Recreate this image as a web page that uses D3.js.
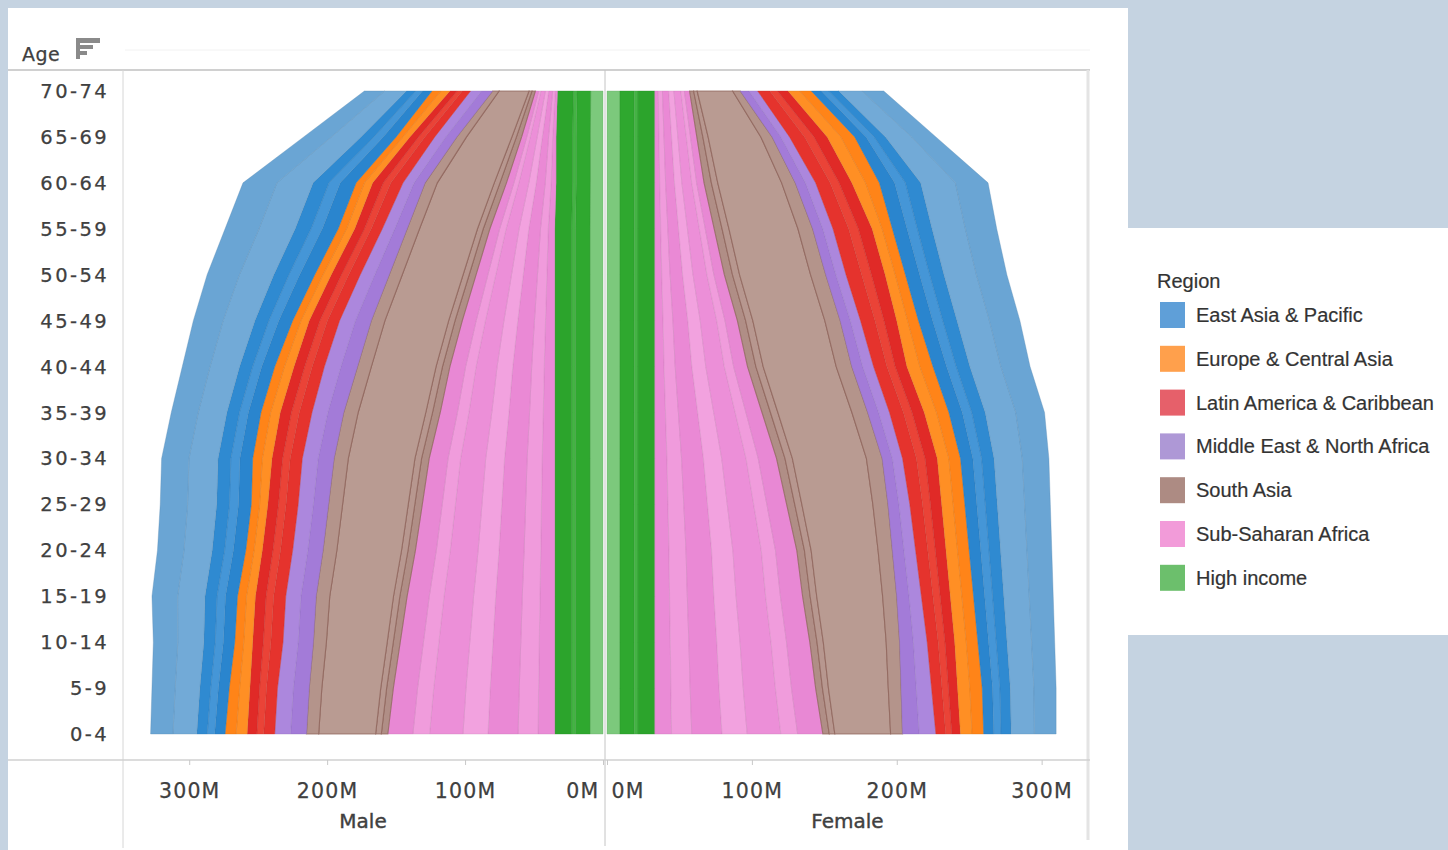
<!DOCTYPE html>
<html><head><meta charset="utf-8">
<script src="https://cdn.jsdelivr.net/npm/d3@7"></script>
<style>
body{margin:0;background:#c5d3e1;}
svg{display:block;}
</style></head>
<body>
<svg id="chart" width="1448" height="850"></svg>
<script>
// ---------------- DATA (population, millions) ----------------
const ages = ["0-4","5-9","10-14","15-19","20-24","25-29","30-34","35-39","40-44","45-49","50-54","55-59","60-64","65-69","70-74"];
const regions = ["East Asia & Pacific","Europe & Central Asia","Latin America & Caribbean","Middle East & North Africa","South Asia","Sub-Saharan Africa","High income"];
const xTicks = [0,100,200,300];

// Male, by age group 0-4 ... 70-74
const maleEastAsia   = [54,56,59,62,64,66,66,65,67,72,78,82,82,67,49];
const maleEurope     = [16,15,13,13,12,12,14,14,14,12,12,12,12,10,13];
const maleLatAm      = [20,20,22,22,22,22,22,23,22,22,21,20,22,18,15];
const maleMENA       = [23,23,22,22,22,22,23,23,24,23,21,18,16,16,16];
const maleSouthAsia  = [59,61,63,66,67,68,69,70,67,66,63,60,59,47,31];
const maleSubSaharan = [121,117,112,107,101,96,91,83,76,67,57,47,36,25,16];
const maleHighIncome = [35,35,35,35,35,35,35,35,35,35,35,35,34,34,33];

// Female, by age group 0-4 ... 70-74
const femaleEastAsia   = [50,51,53,55,57,59,61,66,67,70,70,72,75,56,50];
const femaleEurope     = [16,17,16,16,16,16,16,17,18,15,14,14,19,19,16];
const femaleLatAm      = [17,18,19,20,21,22,24,24,23,25,27,27,25,26,21];
const femaleMENA       = [23,21,19,17,16,15,14,15,15,14,14,14,14,12,12];
const femaleSouthAsia  = [55,59,62,65,66,70,73,73,72,71,70,68,63,52,35];
const femaleSubSaharan = [116,111,107,102,98,91,84,74,64,57,48,41,34,29,24];
const femaleHighIncome = [33,33,33,33,33,33,33,33,33,33,33,33,33,33,33];

const maleData = {
  "East Asia & Pacific": maleEastAsia, "Europe & Central Asia": maleEurope,
  "Latin America & Caribbean": maleLatAm, "Middle East & North Africa": maleMENA,
  "South Asia": maleSouthAsia, "Sub-Saharan Africa": maleSubSaharan, "High income": maleHighIncome
};
const femaleData = {
  "East Asia & Pacific": femaleEastAsia, "Europe & Central Asia": femaleEurope,
  "Latin America & Caribbean": femaleLatAm, "Middle East & North Africa": femaleMENA,
  "South Asia": femaleSouthAsia, "Sub-Saharan Africa": femaleSubSaharan, "High income": femaleHighIncome
};

// ---------------- STYLE ----------------
const legendColors = {
  "East Asia & Pacific":"#5f9fd8","Europe & Central Asia":"#ffa04c","Latin America & Caribbean":"#e6606a",
  "Middle East & North Africa":"#ae98d6","South Asia":"#ad8b83","Sub-Saharan Africa":"#f29bd9","High income":"#6cbf6c"
};
// shading stripes inside each region band (inner -> outer), purely cosmetic
const stripes = {
  "High income":[{f:.27,c:"#7cc97c"},{f:.30,c:"#2fa82f"},{f:.08,c:"#44b344"},{f:.35,c:"#2ca42c"}],
  "Sub-Saharan Africa":[{f:.10,c:"#ea8bd6"},{f:.12,c:"#f09bdc"},{f:.18,c:"#ea89d5"},{f:.15,c:"#f2a2df"},{f:.20,c:"#ec8fd8"},{f:.10,c:"#f09cdc"},{f:.15,c:"#e888d4"}],
  "South Asia":[{f:.08,c:"#b08e86"},{f:.07,c:"#b7978f"},{f:.70,c:"#b99b92"},{f:.15,c:"#b4948b"}],
  "Middle East & North Africa":[{f:.5,c:"#a37bd8"},{f:.5,c:"#ac87dd"}],
  "Latin America & Caribbean":[{f:.4,c:"#e5332d"},{f:.25,c:"#ea4337"},{f:.35,c:"#e02a27"}],
  "Europe & Central Asia":[{f:.5,c:"#ff8f24"},{f:.5,c:"#ff8418"}],
  "East Asia & Pacific":[{f:.14,c:"#2a85ce"},{f:.10,c:"#4596d7"},{f:.14,c:"#2f8ad1"},{f:.32,c:"#72aad7"},{f:.30,c:"#6aa5d4"}]
};
const stackKeys = ["High income","Sub-Saharan Africa","South Asia","Middle East & North Africa","Latin America & Caribbean","Europe & Central Asia","East Asia & Pacific"];

const svg = d3.select("#chart");
const txt = "#404040";

// panels
svg.append("rect").attr("x",8).attr("y",8).attr("width",1120).attr("height",842).attr("fill","#fff");
svg.append("rect").attr("x",1128).attr("y",228).attr("width",320).attr("height",407).attr("fill","#fff");

// scales
const y = d3.scalePoint().domain(ages).range([734, 91]);
const xM = d3.scaleLinear().domain([0, 348]).range([603, 123]);
const xF = d3.scaleLinear().domain([0, 332]).range([607, 1088]);

// frame lines
svg.append("line").attr("x1",8).attr("x2",1090).attr("y1",70).attr("y2",70).attr("stroke","#d0d0d0").attr("stroke-width",2);
svg.append("line").attr("x1",125).attr("x2",1090).attr("y1",50).attr("y2",50).attr("stroke","#f2f2f2").attr("stroke-width",1);
svg.append("line").attr("x1",123).attr("x2",123).attr("y1",70).attr("y2",848).attr("stroke","#d6d6d6").attr("stroke-width",1);
svg.append("line").attr("x1",1088).attr("x2",1088).attr("y1",70).attr("y2",840).attr("stroke","#e4e4e4").attr("stroke-width",3);

// areas
function drawSide(dataObj, xs) {
  const rows = ages.map((a,i)=>{ const r={age:a}; stackKeys.forEach(k=>r[k]=dataObj[k][i]); return r; });
  const series = d3.stack().keys(stackKeys)(rows);
  const g = svg.append("g");
  series.forEach(s=>{
    let cum = 0;
    stripes[s.key].forEach(sb=>{
      const f0 = cum, f1 = cum + sb.f; cum = f1;
      const area = d3.area()
        .y(d=>y(d.data.age))
        .x0(d=>xs(d[0] + (d[1]-d[0])*f0))
        .x1(d=>xs(d[0] + (d[1]-d[0])*f1));
      const isSA = s.key==="South Asia";
      g.append("path").datum(s).attr("d",area).attr("fill",sb.c)
        .attr("stroke", isSA ? "#8d6359" : d3.color(sb.c).darker(0.5))
        .attr("stroke-width", isSA ? 1.1 : 0.7).attr("stroke-opacity", isSA?0.75:0.5);
    });
  });
}
drawSide(maleData, xM);
drawSide(femaleData, xF);

// center line
svg.append("line").attr("x1",605).attr("x2",605).attr("y1",70).attr("y2",846).attr("stroke","#c4c4c4").attr("stroke-width",1);

// y labels
svg.append("g").selectAll("text").data(ages).join("text")
  .attr("x",109).attr("y",d=>y(d)+7).attr("text-anchor","end")
  .attr("font-family","DejaVu Sans").attr("font-size",19.5).attr("letter-spacing",2.4)
  .attr("fill",txt).attr("stroke",txt).attr("stroke-width",0.25).text(d=>d);

// "Age" header + sort icon
svg.append("text").attr("x",22).attr("y",61).attr("font-family","DejaVu Sans").attr("font-size",19)
  .attr("letter-spacing",0.5).attr("fill",txt).attr("stroke",txt).attr("stroke-width",0.25).text("Age");
const ic = svg.append("g").attr("fill","#8a8a8a");
ic.append("rect").attr("x",76).attr("y",38).attr("width",4).attr("height",21);
ic.append("rect").attr("x",76).attr("y",38).attr("width",24).attr("height",5);
ic.append("rect").attr("x",76).attr("y",45).attr("width",17).attr("height",4);
ic.append("rect").attr("x",76).attr("y",51).attr("width",11).attr("height",4);

// x axes
svg.append("line").attr("x1",8).attr("x2",1090).attr("y1",760).attr("y2",760).attr("stroke","#d0d0d0").attr("stroke-width",1.5);
function axis(xs, side) {
  const g = svg.append("g").attr("transform","translate(0,760)")
    .call(d3.axisBottom(xs).tickValues(xTicks).tickFormat(d=>d+"M").tickSize(5).tickPadding(18));
  g.select(".domain").remove();
  g.selectAll(".tick line").attr("stroke","#c8c8c8");
  g.selectAll("text").attr("font-family","DejaVu Sans").attr("font-size",20.5).attr("letter-spacing",1.2)
    .attr("fill",txt).attr("stroke",txt).attr("stroke-width",0.25);
  g.selectAll(".tick").filter(d=>d===0).select("text")
    .attr("text-anchor", side==="m" ? "end" : "start").attr("x", side==="m" ? -4 : 4);
}
axis(xM,"m");
axis(xF,"f");
svg.append("text").attr("x",(xM(0)+xM.range()[1])/2).attr("y",828).attr("text-anchor","middle")
  .attr("font-family","DejaVu Sans").attr("font-size",20).attr("fill",txt).attr("stroke",txt).attr("stroke-width",0.4).text("Male");
svg.append("text").attr("x",(xF(0)+xF.range()[1])/2).attr("y",828).attr("text-anchor","middle")
  .attr("font-family","DejaVu Sans").attr("font-size",20).attr("fill",txt).attr("stroke",txt).attr("stroke-width",0.4).text("Female");

// legend
const lg = svg.append("g").attr("transform","translate(1157,0)");
lg.append("text").attr("x",0).attr("y",288).attr("font-family","Liberation Sans").attr("font-size",20)
  .attr("fill","#333").attr("stroke","#333").attr("stroke-width",0.2).text("Region");
const items = lg.selectAll("g.item").data(regions).join("g").attr("class","item")
  .attr("transform",(d,i)=>`translate(0,${302 + i*43.8})`);
items.append("rect").attr("x",3).attr("y",0).attr("width",25).attr("height",26).attr("fill",d=>legendColors[d]);
items.append("text").attr("x",39).attr("y",20).attr("font-family","Liberation Sans").attr("font-size",20)
  .attr("fill","#333").attr("stroke","#333").attr("stroke-width",0.2).text(d=>d);
</script>
</body></html>
